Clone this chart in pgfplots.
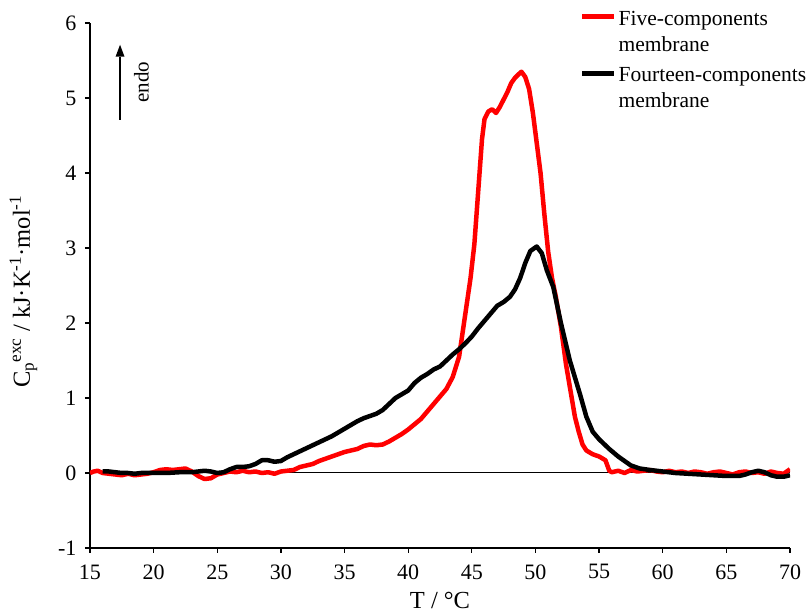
\documentclass[border=0pt]{standalone}
\usepackage{pgfplots}
\pgfplotsset{compat=1.18}
\usepackage{fontspec}
\setmainfont{Liberation Serif}
\definecolor{cred}{RGB}{255,0,0}
\begin{document}
\begin{tikzpicture}
\begin{axis}[
  scale only axis, width=700pt, height=525pt,
  xmin=15, xmax=70, ymin=-1, ymax=6,
  axis lines=left, axis line style={-, line width=1.3pt},
  tick align=outside, major tick length=5pt,
  tick style={line width=1.3pt, black},
  xtick={15,20,...,70}, ytick={-1,0,...,6},
  /pgf/number format/assume math mode=true,
  font=\fontsize{22}{28}\selectfont,
  tick label style={font=\fontsize{22}{28}\selectfont},
  xticklabel style={yshift=-8pt},
  yticklabel style={xshift=-5pt},
  label style={font=\fontsize{24.5}{28}\selectfont},
  xlabel={T / °C},
  ylabel={C\textsubscript{p}\textsuperscript{exc} / kJ·K\textsuperscript{-1}·mol\textsuperscript{-1}},
  xlabel style={yshift=-6pt},
  ylabel style={yshift=14pt, xshift=-6pt},
  legend cell align=left,
  legend style={draw=none, fill=none, inner sep=0pt, at={(0.70,1.035)}, anchor=north west,
    font=\fontsize{21.5}{26}\selectfont, row sep=33pt, /tikz/every even column/.append style={column sep=3pt}},
  legend image code/.code={\draw[#1] (0pt,0pt) -- (32pt,0pt);},
]
\draw[line width=1pt] (axis cs:15,0) -- (axis cs:70,0);
\addplot[cred, line width=4.5pt, line join=round] coordinates {
(15.0,0.00)(15.3,0.02)(15.6,0.03)(16.0,0.00)(16.5,-0.01)(17.0,-0.02)(17.5,-0.03)(18.0,-0.01)(18.5,-0.03)(19.0,-0.02)(19.5,-0.01)
(20.0,0.01)(20.5,0.04)(21.0,0.05)(21.5,0.04)(22.0,0.05)(22.5,0.06)(23.0,0.02)(23.5,-0.04)(24.0,-0.08)(24.5,-0.07)
(25.0,-0.02)(25.5,0.00)(26.0,0.02)(26.5,0.01)(27.0,0.03)(27.5,0.01)(28.0,0.02)(28.5,0.00)(29.0,0.01)(29.5,-0.01)
(30.0,0.02)(30.5,0.03)(31.0,0.04)(31.5,0.08)(32.0,0.10)(32.5,0.12)(33.0,0.16)(33.5,0.19)(34.0,0.22)(34.5,0.25)
(35.0,0.28)(35.5,0.30)(36.0,0.32)(36.5,0.36)(37.0,0.38)(37.5,0.37)(38.0,0.38)(38.5,0.42)(39.0,0.47)(39.5,0.52)
(40.0,0.58)(40.5,0.65)(41.0,0.72)(41.5,0.82)(42.0,0.92)(42.5,1.02)(43.0,1.12)(43.5,1.28)(44.0,1.55)(44.3,1.90)
(44.6,2.25)(44.9,2.60)(45.2,3.05)(45.5,3.75)(45.8,4.45)(46.0,4.72)(46.3,4.82)(46.6,4.85)(46.9,4.80)(47.2,4.88)
(47.5,4.98)(47.8,5.08)(48.1,5.20)(48.4,5.27)(48.7,5.32)(48.9,5.35)(49.2,5.28)(49.5,5.12)(49.8,4.80)(50.1,4.40)
(50.4,4.00)(50.7,3.45)(51.0,2.95)(51.3,2.60)(51.6,2.35)(52.0,1.95)(52.4,1.45)(52.8,1.05)(53.1,0.75)(53.4,0.55)
(53.7,0.38)(54.0,0.30)(54.5,0.25)(55.0,0.22)(55.5,0.17)(55.8,0.03)(56.0,0.01)(56.5,0.03)(57.0,0.00)(57.5,0.04)
(58.0,0.02)(58.5,0.03)(59.0,0.04)(59.5,0.02)(60.0,0.01)(60.5,0.03)(61.0,0.01)(61.5,0.02)(62.0,0.00)(62.5,0.02)
(63.0,0.01)(63.5,-0.01)(64.0,0.01)(64.5,0.02)(65.0,0.00)(65.5,-0.02)(66.0,0.01)(66.5,0.02)(67.0,0.00)(67.5,0.01)
(68.0,-0.01)(68.5,0.02)(69.0,0.00)(69.5,-0.01)(70.0,0.05)
};
\addlegendentry{\begin{tabular}[t]{@{}l@{}}Five-components\\membrane\end{tabular}}
\addplot[black, line width=4.5pt, line join=round] coordinates {
(16.0,0.02)(16.5,0.02)(17.0,0.01)(17.5,0.00)(18.0,0.00)(18.5,-0.01)(19.0,0.00)(20.0,0.00)(21.0,0.00)(22.0,0.01)
(23.0,0.01)(24.0,0.03)(24.5,0.02)(25.0,0.00)(25.5,0.01)(26.0,0.05)(26.5,0.08)(27.0,0.08)(27.5,0.09)(28.0,0.12)
(28.5,0.17)(29.0,0.17)(29.5,0.15)(30.0,0.16)(30.5,0.21)(31.0,0.25)(31.5,0.29)(32.0,0.33)(32.5,0.37)(33.0,0.41)
(33.5,0.45)(34.0,0.49)(34.5,0.54)(35.0,0.59)(35.5,0.64)(36.0,0.69)(36.5,0.73)(37.0,0.76)(37.5,0.79)(38.0,0.84)
(38.5,0.92)(39.0,1.00)(39.5,1.05)(40.0,1.10)(40.5,1.20)(41.0,1.27)(41.5,1.32)(42.0,1.38)(42.5,1.42)(43.0,1.50)
(43.5,1.58)(44.0,1.65)(44.5,1.73)(45.0,1.82)(45.5,1.93)(46.0,2.03)(46.5,2.13)(47.0,2.23)(47.5,2.28)(48.0,2.35)
(48.4,2.45)(48.8,2.60)(49.2,2.80)(49.6,2.96)(50.1,3.02)(50.5,2.93)(50.9,2.70)(51.4,2.48)(52.0,2.00)(52.7,1.50)
(53.5,1.05)(54.0,0.75)(54.5,0.55)(55.0,0.45)(55.8,0.32)(56.5,0.22)(57.0,0.16)(57.5,0.10)(58.2,0.06)(59.0,0.04)
(60.0,0.02)(61.0,0.00)(62.0,-0.01)(63.0,-0.02)(64.0,-0.03)(65.0,-0.04)(66.0,-0.04)(66.5,-0.02)(67.0,0.01)(67.5,0.03)
(68.0,0.01)(68.5,-0.03)(69.0,-0.05)(69.5,-0.05)(70.0,-0.03)
};
\addlegendentry{\begin{tabular}[t]{@{}l@{}}Fourteen-components\\membrane\end{tabular}}
\draw[line width=1.3pt] (axis cs:17.36,4.71) -- (axis cs:17.36,5.55);
\fill (axis cs:17.36,5.71) -- ++(-4.5pt,-12pt) -- ++(9pt,0pt) -- cycle;
\node[rotate=90, font=\fontsize{21}{26}\selectfont] at (axis cs:19.05,5.21) {endo};
\coordinate (o) at (rel axis cs:0,0);
\end{axis}
\path (o) ++(-90pt,-67pt) rectangle ++(809pt,615pt);
\end{tikzpicture}
\end{document}
